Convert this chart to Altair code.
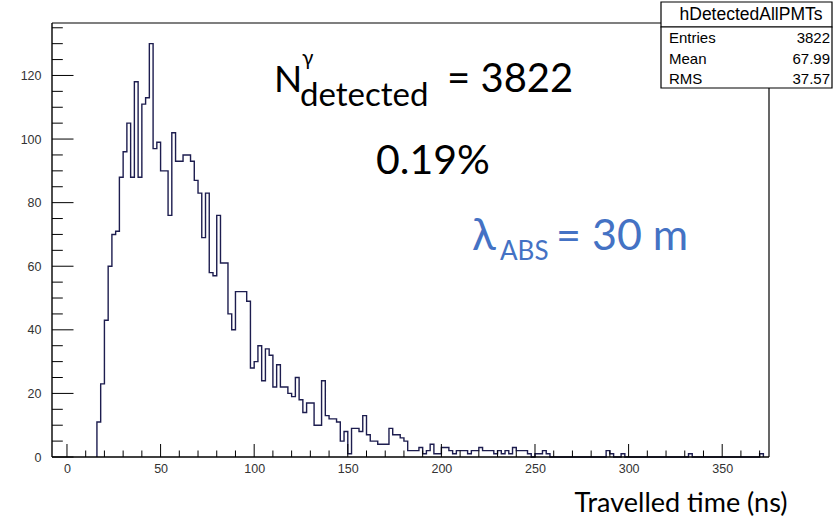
import altair as alt
import pandas as pd

# ---------------- data ----------------
bin_start = 16          # ns, lower edge of first filled bin
bin_width = 2           # ns
last_edge = 372         # ns, upper edge of the last bin
counts = [11, 23, 43, 60, 70, 71, 88, 96, 105, 88, 118, 88, 111, 113, 130,
          97, 99, 90, 90, 76, 102, 93, 93, 95, 95, 93, 87, 83, 69, 83,
          58, 57, 76, 61, 61, 45, 40, 52, 52, 52, 49, 28, 30, 35, 24,
          34, 32, 22, 29, 22, 22, 20, 19, 25, 18, 14, 17, 17, 10, 10,
          24, 13, 12, 12, 11, 5, 8, 1, 9, 9, 8, 13, 7, 5, 5,
          4, 4, 4, 9, 7, 7, 6, 5, 2, 2, 2, 3, 1, 2, 4,
          1, 1, 3, 3, 2, 1, 2, 2, 2, 1, 2, 2, 3, 2, 2,
          2, 1, 2, 1, 2, 1, 3, 2, 2, 2, 1, 0, 1, 1, 2, 1]
tail_bins = [288, 290, 296, 332, 370]
tail_counts = [2, 1, 1, 1, 1]

x_major = [0, 50, 100, 150, 200, 250, 300, 350]
x_minor = [v for v in range(0, 375, 10) if v % 50]
y_major = [0, 20, 40, 60, 80, 100, 120]
y_minor = [v for v in range(0, 136, 5) if v % 20]

stat_names = ["Entries", "Mean", "RMS"]
stat_values = ["3822", "67.99", "37.57"]

# ---------------- build step table ----------------
n_bins = (last_edge - bin_start) // bin_width
full = counts + [0] * (n_bins - len(counts))
for t, c in zip(tail_bins, tail_counts):
    full[(t - bin_start) // bin_width] = c
rows = [{"t": bin_start, "n": 0}]
rows += [{"t": bin_start + i * bin_width, "n": c} for i, c in enumerate(full)]
rows += [{"t": last_edge, "n": 0}]
for i, r in enumerate(rows):
    r["i"] = i
hist_df = pd.DataFrame(rows)

W, H = 717, 434
OX, OY = 52, 23   # plot origin in the page
LINE = "#1d1d4f"
BLUE = "#4472C4"

xscale = alt.Scale(domain=[-8, 375], nice=False, zero=False)
yscale = alt.Scale(domain=[0, 136.5], nice=False, zero=True)

hist = alt.Chart(hist_df).mark_line(
    interpolate="step-after", color=LINE, strokeWidth=1.4
).encode(
    x=alt.X("t:Q", scale=xscale,
            axis=alt.Axis(values=x_major, ticks=False, domain=False, grid=False,
                          title=None, labelPadding=5, labelFontSize=12.5,
                          labelFont="Liberation Sans", labelColor="#333")),
    y=alt.Y("n:Q", scale=yscale,
            axis=alt.Axis(values=y_major, ticks=False, domain=False, grid=False,
                          title=None, labelPadding=11, labelFontSize=12.5,
                          labelFont="Liberation Sans", labelColor="#333")),
    order="i:Q",
)

def rules_x(vals, length):
    return alt.Chart(pd.DataFrame({"t": vals})).mark_rule(color="black", strokeWidth=1).encode(
        x="t:Q", y=alt.value(H), y2=alt.value(H - length))

def rules_y(vals, length):
    return alt.Chart(pd.DataFrame({"n": vals})).mark_rule(color="black", strokeWidth=1).encode(
        y="n:Q", x=alt.value(0), x2=alt.value(length))

def txt(s, x, y, size, color="black", font="Lato", align="left", baseline="alphabetic", weight="normal"):
    return alt.Chart(pd.DataFrame({"s": [s]})).mark_text(
        align=align, baseline=baseline, fontSize=size, font=font, color=color, fontWeight=weight
    ).encode(x=alt.value(x - OX), y=alt.value(y - OY), text="s:N")

def frame_line(x1, y1, x2, y2, w=1.2):
    return alt.Chart(pd.DataFrame({"a": [0]})).mark_rule(color="black", strokeWidth=w).encode(
        x=alt.value(x1), y=alt.value(y1), x2=alt.value(x2), y2=alt.value(y2))

def box(x1, y1, x2, y2):
    return alt.Chart(pd.DataFrame({"a": [0]})).mark_rect(
        fill="white", stroke="black", strokeWidth=1.2
    ).encode(x=alt.value(x1 - OX), y=alt.value(y1 - OY), x2=alt.value(x2 - OX), y2=alt.value(y2 - OY))

layers = [
    hist,
    rules_x(x_major, 13), rules_x(x_minor, 6.5),
    rules_y(y_major, 21.5), rules_y(y_minor, 10.8),
    frame_line(0, 0, W, 0), frame_line(W, 0, W, H), frame_line(0, H, W, H, 1.4), frame_line(0, 0, 0, H, 1.4),
    box(661, 2, 832, 27), box(661, 27, 832, 88),
    txt("hDetectedAllPMTs", 751, 20, 17.5, font="Liberation Sans", align="center"),
]
for k, (nm, val) in enumerate(zip(stat_names, stat_values)):
    yb = 43 + 20.5 * k
    layers.append(txt(nm, 669, yb, 15, font="Liberation Sans"))
    layers.append(txt(val, 830, yb, 15, font="Liberation Sans", align="right"))

layers += [
    txt("N", 274, 92, 37),
    txt("\u03b3", 302, 65, 21),
    txt("detected", 300, 106, 33),
    txt("= 3822", 447, 92, 40),
    txt("0.19%", 433, 174, 41, align="center"),
    txt("\u03bb", 472, 250, 44, color=BLUE),
    txt("ABS", 500, 260, 26, color=BLUE),
    txt("= 30 m", 556, 250, 43, color=BLUE),
    txt("Travelled time (ns)", 681, 512, 27, align="center"),
]

chart = alt.layer(*layers).properties(
    width=W, height=H,
    padding={"left": OX, "top": OY, "right": 833 - OX - W, "bottom": 520 - OY - H},
    autosize=alt.AutoSizeParams(type="none"),
    background="white",
).configure_view(stroke=None)

chart.save("out.html", embed_options={"renderer": "svg", "actions": False})
